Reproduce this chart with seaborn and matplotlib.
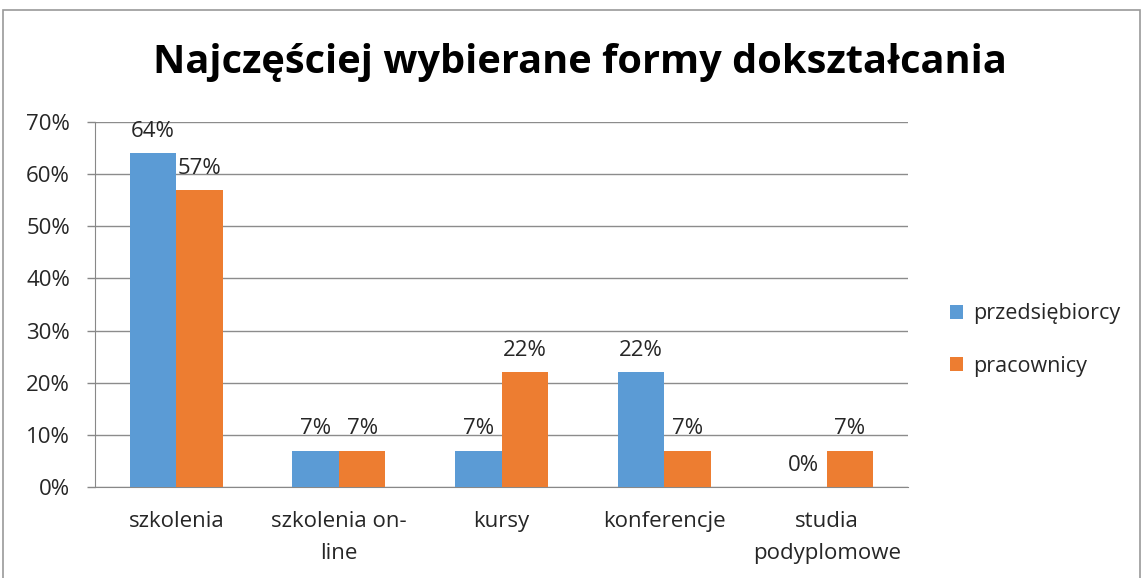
import matplotlib
matplotlib.use("Agg")
import matplotlib.pyplot as plt
import seaborn as sns
import pandas as pd
from matplotlib.patches import Rectangle, Patch
from matplotlib.ticker import FixedLocator

categories = ["szkolenia", "szkolenia on-\nline", "kursy", "konferencje", "studia\npodyplomowe"]
series_names = ["przedsiębiorcy", "pracownicy"]
przedsiebiorcy = [64, 7, 7, 22, 0]
pracownicy = [57, 7, 22, 7, 7]
yticks = [0, 10, 20, 30, 40, 50, 60, 70]
title = "Najczęściej wybierane formy dokształcania"
colors = ["#5B9BD5", "#ED7D31"]

df = pd.DataFrame({
    "kategoria": categories * 2,
    "seria": [series_names[0]] * len(categories) + [series_names[1]] * len(categories),
    "wartosc": przedsiebiorcy + pracownicy,
})

sns.set_style("white")
plt.rcParams["font.family"] = ["Open Sans", "DejaVu Sans"]

fig = plt.figure(figsize=(11.44, 5.78), dpi=100)
ax = fig.add_axes([95 / 1144, 1 - 487 / 578, (908 - 95) / 1144, (487 - 122) / 578])

sns.barplot(data=df, x="kategoria", y="wartosc", hue="seria", palette=colors,
            width=0.573, ax=ax, legend=False, saturation=1, zorder=3, linewidth=0)

for c in ax.containers:
    ax.bar_label(c, labels=[f"{int(round(v))}%" for v in c.datavalues], padding=8,
                 fontsize=16, color="#262626")

ax.set_ylim(0, 70)
ax.set_xlim(-0.5, len(categories) - 0.5)
ax.set_yticks(yticks)
ax.set_yticklabels([f"{v}%" for v in yticks], fontsize=16, color="#262626")
ax.set_xticks(range(len(categories)))
ax.set_xticklabels(categories, fontsize=16, color="#262626", linespacing=1.7)
ax.xaxis.set_minor_locator(FixedLocator([i - 0.5 for i in range(len(categories) + 1)]))
ax.tick_params(axis="x", which="major", length=0, pad=17)
ax.tick_params(axis="x", which="minor", length=8, color="#888888", width=1)
ax.tick_params(axis="y", which="major", length=6, color="#888888", width=1, pad=12, left=True)
ax.set_xlabel("")
ax.set_ylabel("")
ax.yaxis.grid(True, color="#8C8C8C", linewidth=1, zorder=0)
ax.set_axisbelow(True)
for s in ["top", "right"]:
    ax.spines[s].set_visible(False)
ax.spines["left"].set_color("#888888")
ax.spines["bottom"].set_color("#888888")

handles = [Patch(facecolor=colors[i], edgecolor="none", label=series_names[i]) for i in range(2)]
fig.legend(handles=handles, loc="center left", bbox_to_anchor=(931 / 1144, 1 - 340 / 578),
           frameon=False, fontsize=15.5, handlelength=0.6, handleheight=0.6,
           handletextpad=0.45, labelspacing=1.45, labelcolor="#262626")

fig.text(580 / 1144, 1 - 62 / 578, title, ha="center", va="center",
         fontsize=28.6, fontweight="bold", color="black")

fig.patches.append(Rectangle((3 / 1144, -0.01), (1140 - 3) / 1144, 1 - 10 / 578 + 0.01,
                             transform=fig.transFigure, fill=False,
                             edgecolor="#9A9A9A", linewidth=1.2))

fig.savefig("out.png", dpi=100, facecolor="white")
